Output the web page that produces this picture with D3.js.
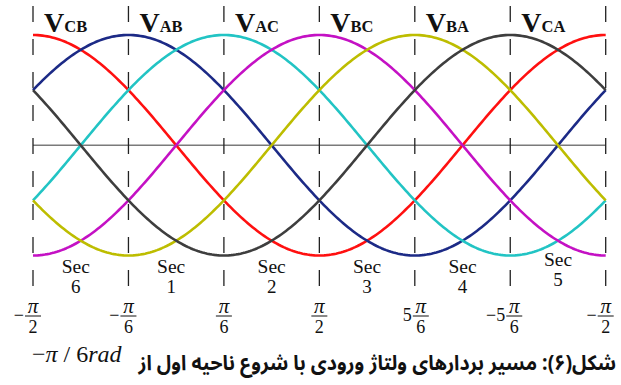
<!DOCTYPE html>
<html>
<head>
<meta charset="utf-8">
<script src="https://cdn.jsdelivr.net/npm/d3@7"></script>
<style>
  html, body { margin: 0; padding: 0; background: #fff; }
  svg { display: block; }
</style>
</head>
<body>
<svg id="chart" width="621" height="385"></svg>
<script>
// Line-to-line input voltages, one per 60° sector, peaks given in units of π/6
const seriesNames = ["CB", "AB", "AC", "BC", "BA", "CA"];
const seriesPeaks = [-3, -1, 1, 3, 5, 7];
const seriesAmplitude = [1, 1, 1, 1, 1, 1];
const seriesColors = ["#ff1010", "#1c2a86", "#22c4c4", "#c411c4", "#bdbd00", "#3e3e3e"];

// Sector boundaries (units of π/6) and their labels
const boundaries = [-3, -1, 1, 3, 5, 7, 9];
const tickSigns = ["\u2212", "\u2212", "", "", "", "\u2212", "\u2212"];
const tickCoefs = ["", "", "", "", "5", "5", ""];
const tickDenoms = ["2", "6", "6", "2", "6", "6", "2"];
const sectorNumbers = ["6", "1", "2", "3", "4", "5"];

const captionText = "شکل(۶): مسیر بردارهای ولتاژ ورودی با شروع ناحیه اول از";

const svg = d3.select("#chart");
const serif = "'Liberation Serif', 'Times New Roman', serif";

const x = d3.scaleLinear().domain([-3, 9]).range([33, 605.7]);
const y = d3.scaleLinear().domain([-1, 1]).range([255.5, 35]);

// zero axis
svg.append("line")
  .attr("x1", x(-3)).attr("x2", x(9))
  .attr("y1", y(0)).attr("y2", y(0))
  .attr("stroke", "#7a7a7a").attr("stroke-width", 1.4);

// dashed sector boundaries
svg.selectAll("line.bound").data(boundaries).join("line")
  .attr("class", "bound")
  .attr("x1", d => x(d)).attr("x2", d => x(d))
  .attr("y1", 6).attr("y2", 297)
  .attr("stroke", "#222").attr("stroke-width", 1.3)
  .attr("stroke-dasharray", "16 17");

// waveforms
const samples = d3.range(0, 241).map(i => -3 + i * 12 / 240);
const line = d3.line().x(d => x(d[0])).y(d => y(d[1]));
seriesNames.forEach((name, i) => {
  const pts = samples.map(t => [t, seriesAmplitude[i] * Math.cos((t - seriesPeaks[i]) * Math.PI / 6)]);
  svg.append("path")
    .attr("d", line(pts))
    .attr("fill", "none")
    .attr("stroke", seriesColors[i])
    .attr("stroke-width", 2.6)
    .attr("stroke-linejoin", "round");
});

// voltage labels above each sector
seriesNames.forEach((name, i) => {
  const t = svg.append("text")
    .attr("x", x(boundaries[i]) + 11)
    .attr("y", 32)
    .attr("font-family", serif)
    .attr("font-weight", "bold")
    .attr("fill", "#111");
  t.append("tspan").attr("font-size", 28).text("V");
  t.append("tspan").attr("font-size", 16.5).text(name);
});

// sector names
sectorNumbers.forEach((n, i) => {
  const cx = (x(boundaries[i]) + x(boundaries[i + 1])) / 2 + (i < 2 ? -5 : 0);
  const lift = i === 5 ? -7 : 0;
  svg.append("text")
    .attr("x", cx).attr("y", 273 + lift)
    .attr("text-anchor", "middle")
    .attr("font-family", serif).attr("font-size", 19.5)
    .attr("fill", "#111").text("Sec");
  svg.append("text")
    .attr("x", cx).attr("y", 293 + lift)
    .attr("text-anchor", "middle")
    .attr("font-family", serif).attr("font-size", 19)
    .attr("fill", "#111").text(n);
});

// fraction tick labels under each boundary
boundaries.forEach((b, i) => {
  const fx = x(b) + (i === 4 ? 6 : i === 5 ? 4 : 0);
  const g = svg.append("g").attr("transform", `translate(${fx},0)`);
  g.append("text")
    .attr("x", 0).attr("y", 313)
    .attr("text-anchor", "middle")
    .attr("font-family", serif).attr("font-style", "italic").attr("font-size", 21)
    .attr("fill", "#111").text("π");
  g.append("line")
    .attr("x1", -8).attr("x2", 8).attr("y1", 316).attr("y2", 316)
    .attr("stroke", "#111").attr("stroke-width", 1);
  g.append("text")
    .attr("x", 0).attr("y", 333)
    .attr("text-anchor", "middle")
    .attr("font-family", serif).attr("font-size", 18)
    .attr("fill", "#111").text(tickDenoms[i]);
  const pre = tickSigns[i] + tickCoefs[i];
  if (pre) {
    g.append("text")
      .attr("x", -9).attr("y", 321)
      .attr("text-anchor", "end")
      .attr("font-family", serif).attr("font-size", 18)
      .attr("fill", "#111").text(pre);
  }
});

// caption: Persian title, condensed horizontally to its line width
const capG = svg.append("g");
const cap = capG.append("text")
  .attr("x", 0).attr("y", 0)
  .attr("direction", "rtl")
  .attr("text-anchor", "start")
  .attr("font-family", "'Noto Sans Arabic', 'Noto Naskh Arabic', 'DejaVu Sans', sans-serif")
  .attr("font-weight", "bold")
  .attr("font-size", 21)
  .attr("fill", "#111")
  .text(captionText);
const w = cap.node().getComputedTextLength();
capG.attr("transform", `translate(616,370) scale(${478 / w},1)`);

// starting angle of the first sector
const ang = svg.append("text")
  .attr("x", 32).attr("y", 362)
  .attr("font-family", serif).attr("font-size", 24)
  .attr("fill", "#111");
ang.append("tspan").text("\u2212");
ang.append("tspan").attr("font-style", "italic").text("π");
ang.append("tspan").text(" / 6");
ang.append("tspan").attr("font-style", "italic").text("rad");
</script>
</body>
</html>
